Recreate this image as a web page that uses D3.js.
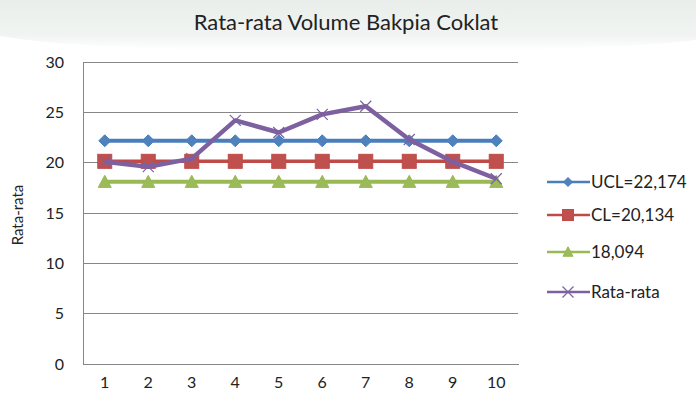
<!DOCTYPE html>
<html>
<head>
<meta charset="utf-8">
<script src="https://cdn.jsdelivr.net/npm/d3@7/dist/d3.min.js"></script>
<style>
  html, body { margin: 0; padding: 0; background: #fff; }
  svg { display: block; }
  text { font-family: Lato, "Open Sans", "Liberation Sans", sans-serif; fill: #222; }
</style>
</head>
<body>
<svg id="chart" width="696" height="409"></svg>
<script>
// Sample numbers on the x axis
const categories = ["1", "2", "3", "4", "5", "6", "7", "8", "9", "10"];

// Control limits
const ucl = 22.174;
const cl = 20.134;
const lcl = 18.094;

// Average volume per sample
const rataRata = [20.1, 19.6, 20.4, 24.2, 23.0, 24.8, 25.6, 22.3, 20.1, 18.4];

// Y axis ticks
const yTicks = [0, 5, 10, 15, 20, 25, 30];

// Legend labels
const legendLabels = ["UCL=22,174", "CL=20,134", "18,094", "Rata-rata"];

const series = [
  { name: legendLabels[0], values: categories.map(() => ucl), color: "#4A7EBB", fill: "#4F81BD", marker: "diamond", width: 4 },
  { name: legendLabels[1], values: categories.map(() => cl), color: "#BE4B48", fill: "#C0504D", marker: "square", width: 3.5 },
  { name: legendLabels[2], values: categories.map(() => lcl), color: "#98B954", fill: "#9BBB59", marker: "triangle", width: 4 },
  { name: legendLabels[3], values: rataRata, color: "#7D60A0", fill: "#8064A2", marker: "x", width: 4.5 }
];

const svg = d3.select("#chart");

// soft watermark band behind the title
const defs = svg.append("defs");
const grad = defs.append("linearGradient").attr("id", "topBand")
  .attr("x1", 0).attr("y1", 0).attr("x2", 0).attr("y2", 1);
grad.append("stop").attr("offset", "0%").attr("stop-color", "#e9eeeb");
grad.append("stop").attr("offset", "70%").attr("stop-color", "#f1f4f2");
grad.append("stop").attr("offset", "100%").attr("stop-color", "#ffffff");
svg.append("path")
  .attr("d", "M0,0 H696 V40 Q600,52 348,50 Q90,52 0,36 Z")
  .attr("fill", "url(#topBand)");

const plot = { left: 83, right: 518, top: 62, bottom: 364 };

const x = d3.scaleBand().domain(categories).range([plot.left, plot.right]).padding(0);
const cx = d => x(d) + x.bandwidth() / 2;
const y = d3.scaleLinear().domain([0, 30]).range([plot.bottom, plot.top]);

// horizontal gridlines
svg.append("g")
  .selectAll("line")
  .data(yTicks.filter(t => t > 0))
  .join("line")
  .attr("x1", plot.left).attr("x2", plot.right)
  .attr("y1", d => y(d)).attr("y2", d => y(d))
  .attr("stroke", "#878787").attr("stroke-width", 1)
  .attr("shape-rendering", "crispEdges");

// y axis
const yAxis = svg.append("g")
  .attr("transform", `translate(${plot.left},0)`)
  .call(d3.axisLeft(y).tickValues(yTicks).tickSize(0).tickPadding(19));
yAxis.select(".domain").attr("stroke", "#878787").attr("shape-rendering", "crispEdges");
yAxis.selectAll("text").style("font-size", "16px").attr("fill", "#222");

// x axis
const xAxis = svg.append("g")
  .attr("transform", `translate(0,${plot.bottom})`)
  .call(d3.axisBottom(x).tickSize(0).tickPadding(13));
xAxis.select(".domain").attr("stroke", "#878787").attr("shape-rendering", "crispEdges");
xAxis.selectAll("text").style("font-size", "16px").attr("fill", "#222");

// titles
svg.append("text")
  .attr("x", 346).attr("y", 30)
  .attr("text-anchor", "middle")
  .style("font-size", "22px")
  .text("Rata-rata Volume Bakpia Coklat");

svg.append("text")
  .attr("transform", "translate(23,215) rotate(-90)")
  .attr("text-anchor", "middle")
  .style("font-size", "15px")
  .text("Rata-rata");

// marker drawing
function drawMarker(g, type, size, s) {
  if (type === "diamond") {
    g.append("path").attr("d", `M0,${-size / 2}L${size / 2},0L0,${size / 2}L${-size / 2},0Z`)
      .attr("fill", s.fill).attr("stroke", s.color).attr("stroke-width", 1);
  } else if (type === "square") {
    g.append("rect").attr("x", -size / 2).attr("y", -size / 2).attr("width", size).attr("height", size)
      .attr("fill", s.fill).attr("stroke", s.color).attr("stroke-width", 1);
  } else if (type === "triangle") {
    const h = size * 0.85;
    g.append("path").attr("d", `M0,${-h / 2 - 1}L${size / 2},${h / 2}L${-size / 2},${h / 2}Z`)
      .attr("fill", s.fill).attr("stroke", s.color).attr("stroke-width", 1);
  } else if (type === "x") {
    const r = size / 2;
    g.append("path").attr("d", `M${-r},${-r}L${r},${r}M${-r},${r}L${r},${-r}`)
      .attr("fill", "none").attr("stroke", s.color).attr("stroke-width", 1.2);
  }
}

const markerSize = { diamond: 12, square: 14, triangle: 13, x: 11 };
const line = d3.line().x((d, i) => cx(categories[i])).y(d => y(d));

series.forEach(s => {
  const g = svg.append("g");
  g.append("path")
    .attr("d", line(s.values))
    .attr("fill", "none")
    .attr("stroke", s.color)
    .attr("stroke-width", s.width)
    .attr("stroke-linejoin", "round");
  s.values.forEach((v, i) => {
    const mg = g.append("g").attr("transform", `translate(${cx(categories[i])},${y(v)})`);
    drawMarker(mg, s.marker, markerSize[s.marker], s);
  });
});

// legend
const legendY = [182, 215, 252, 292];
const legendMarker = { diamond: 9, square: 11, triangle: 10, x: 11 };
series.forEach((s, i) => {
  const g = svg.append("g").attr("transform", `translate(0,${legendY[i]})`);
  g.append("line").attr("x1", 547).attr("x2", 590).attr("y1", 0).attr("y2", 0)
    .attr("stroke", s.color).attr("stroke-width", 2.5);
  drawMarker(g.append("g").attr("transform", "translate(568,0)"), s.marker, legendMarker[s.marker], s);
  g.append("text").attr("x", 591).attr("y", 0).attr("dy", "0.35em")
    .style("font-size", "17px").text(s.name);
});
</script>
</body>
</html>
